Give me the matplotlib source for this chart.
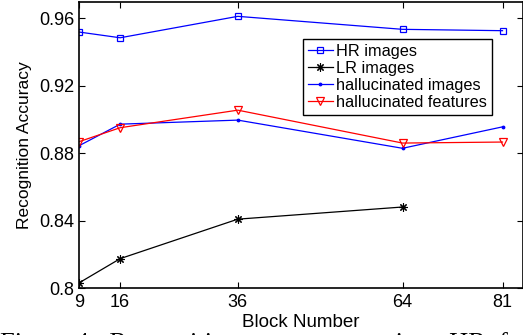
import matplotlib
matplotlib.use("Agg")
import matplotlib.pyplot as plt

blocks = [9, 16, 36, 64, 81]
hr_images = [0.9517, 0.9483, 0.9610, 0.9533, 0.9525]
lr_blocks = [9, 16, 36, 64]
lr_images = [0.8030, 0.8174, 0.8408, 0.8480]
hall_images = [0.8843, 0.8971, 0.8995, 0.8828, 0.8955]
hall_features = [0.8867, 0.8950, 0.9054, 0.8859, 0.8865]
yticks = [0.8, 0.84, 0.88, 0.92, 0.96]
ytick_labels = ["0.8", "0.84", "0.88", "0.92", "0.96"]

plt.rcParams['font.family'] = ['Liberation Sans', 'DejaVu Sans']

W, H = 523, 335
fig = plt.figure(figsize=(W / 100, H / 100), dpi=100)
ax_l, ax_r, ax_t, ax_b = 79, 522.5, 2, 288
ax = fig.add_axes([ax_l / W, (H - ax_b) / H, (ax_r - ax_l) / W, (ax_b - ax_t) / H])

ax.plot(blocks, hr_images, color='#0000ff', lw=0.9, marker='s', ms=4.6,
        mfc='none', mec='#0000ff', mew=0.9, label='HR images')
ax.plot(lr_blocks, lr_images, color='black', lw=0.9, marker=(8, 2, 0), ms=6,
        mec='black', mew=0.8, label='LR images')
ax.plot(blocks, hall_images, color='#0000ff', lw=0.9, marker='.', ms=3.5,
        label='hallucinated images')
ax.plot(blocks, hall_features, color='#ff0000', lw=0.9, marker='v', ms=6,
        mfc='none', mec='#ff0000', mew=0.9, label='hallucinated features')

ax.set_xlim(9, 84.4)
ax.set_ylim(0.8, 0.9695)
ax.set_xticks(blocks)
ax.set_xticklabels([str(b) for b in blocks], fontsize=13)
ax.set_yticks(yticks)
ax.set_yticklabels(ytick_labels, fontsize=13)
ax.tick_params(direction='in', top=True, right=True, length=4, width=0.8)
ax.tick_params(axis='x', pad=4.5)
ax.tick_params(axis='y', pad=3.5)
for s in ax.spines.values():
    s.set_linewidth(1.2)

ax.set_xlabel('Block Number', fontsize=13.5)
ax.xaxis.set_label_coords(0.5, (ax_b - 327) / (ax_b - ax_t))
ax.xaxis.label.set_va('baseline')
ax.set_ylabel('Recognition Accuracy', fontsize=12.5)
ax.yaxis.set_label_coords((32 - ax_l) / (ax_r - ax_l), 0.5)

leg = ax.legend(loc='upper left', fontsize=11.7,
                bbox_to_anchor=((303 - ax_l) / (ax_r - ax_l), (ax_b - 39) / (ax_b - ax_t)),
                frameon=True, fancybox=False, edgecolor='black', framealpha=1,
                borderpad=0.3, labelspacing=0.12, handlelength=1.55, handletextpad=0.2,
                borderaxespad=0)
leg.get_frame().set_linewidth(1.0)

fig.text(0.0, (H - 350) / H, 'Figure 4:  Recognition   accuracy   using   HR  face  images',
         fontsize=19, family=['Liberation Serif', 'DejaVu Serif'], ha='left', va='baseline')

fig.savefig('out.png', dpi=100)
